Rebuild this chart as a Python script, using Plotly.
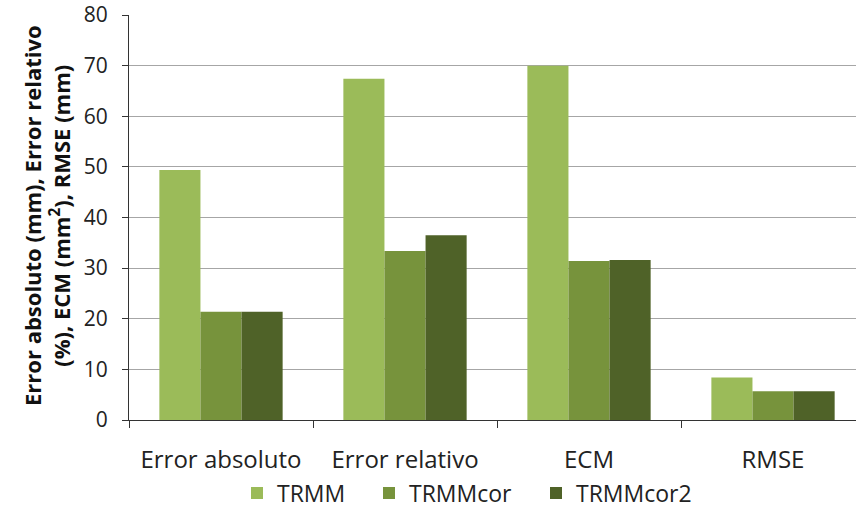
import plotly.graph_objects as go

categories = ["Error absoluto", "Error relativo", "ECM", "RMSE"]
trmm = [49.4, 67.4, 70.0, 8.4]
trmm_cor = [21.4, 33.4, 31.4, 5.7]
trmm_cor2 = [21.4, 36.5, 31.6, 5.7]
series_names = ["TRMM", "TRMMcor", "TRMMcor2"]
colors = ["#9BBB59", "#77933C", "#4F6228"]
y_ticks = [0, 10, 20, 30, 40, 50, 60, 70, 80]

FONT = "Open Sans"
W, H = 856, 518
L, T, PW, PH = 129, 15, 727, 405
legend_ids = ["legend", "legend2", "legend3"]
legend_left_px = [251, 383, 550]

fig = go.Figure()
for name, vals, col, lg in zip(series_names, [trmm, trmm_cor, trmm_cor2], colors, legend_ids):
    fig.add_trace(go.Bar(name=name, x=categories, y=vals, legend=lg,
                         marker=dict(color=col, line=dict(width=0))))

legend_style = dict(orientation="h", xanchor="left", xref="paper", yanchor="middle",
                    y=-73 / PH, font=dict(size=23), itemwidth=30, bgcolor="rgba(0,0,0,0)")
layout_legends = {}
for lg, px in zip(legend_ids, legend_left_px):
    layout_legends[lg] = dict(legend_style, x=(px - 14 - L) / PW)

fig.update_layout(
    width=W, height=H,
    margin=dict(l=L, r=W - L - PW, t=T, b=H - T - PH, autoexpand=False),
    paper_bgcolor="white", plot_bgcolor="white",
    barmode="group", bargap=0.33, bargroupgap=0,
    font=dict(family=FONT, size=23, color="#222"),
    showlegend=True,
    xaxis=dict(range=[-0.5, 3.451], showline=True, linecolor="#333", linewidth=1,
               ticks="outside", tickson="boundaries", ticklen=7, tickcolor="#333",
               showgrid=False, tickfont=dict(size=24), ticklabelstandoff=18,
               fixedrange=True, automargin=False),
    yaxis=dict(range=[0, 80], tickvals=y_ticks, showline=True, linecolor="#333", linewidth=1,
               ticks="outside", ticklen=6, tickcolor="#333", ticklabeloverflow="allow",
               showgrid=True, gridcolor="#A6A6A6", gridwidth=1, automargin=False,
               tickfont=dict(size=21), ticklabelstandoff=10, zeroline=False),
    **layout_legends,
)
fig.add_annotation(
    text="<b>Error absoluto (mm), Error relativo<br>(%), ECM (mm<sup>2</sup>), RMSE (mm)</b>",
    xref="paper", yref="paper", x=(46 - L) / PW, y=204 / PH,
    textangle=-90, showarrow=False, font=dict(family=FONT, size=22, color="#111"),
    xanchor="center", yanchor="middle",
)
fig.write_html("out.html", config={"displayModeBar": False},
               post_script="document.body.style.margin='0';")
